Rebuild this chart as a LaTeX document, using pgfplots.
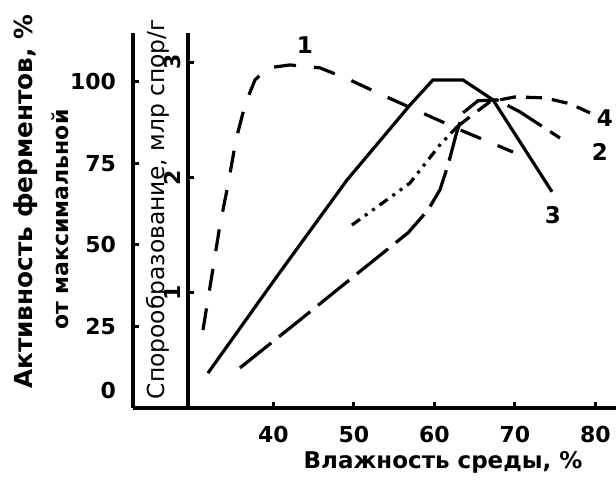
\documentclass[border=0pt]{standalone}
\usepackage{pgfplots}
\pgfplotsset{compat=1.18}
\usepackage{fontspec}
\setmainfont{DejaVu Sans}
\begin{document}
\begin{tikzpicture}
\path[use as bounding box] (0,0) rectangle (308pt,245pt);
\begin{axis}[
  at={(66.5pt,41pt)}, anchor=south west, scale only axis,
  width=241.5pt, height=187.5pt,
  xmin=22.55, xmax=82.55, ymin=0, ymax=115,
  axis x line=bottom, axis y line=left,
  axis line style={line width=2pt,-},
  tick align=inside, major tick length=3pt,
  tick style={line width=1.5pt, black},
  xtick={40,50,60,70,80},
  ytick={0,25,50,75,100},
  yticklabels={\raisebox{18pt}{0},25,50,75,100},
  /pgf/number format/assume math mode=true,
  ticklabel style={font=\bfseries\fontsize{11}{13}\selectfont},
  xticklabel style={yshift=-5.5pt},
  yticklabel style={xshift=-5pt},
  xlabel={Влажность среды, \%},
  xlabel style={at={(axis description cs:0.642,0)}, anchor=center, yshift=-27pt, font=\bfseries\fontsize{11.5}{14}\selectfont},
  ylabel={\fontsize{12.4}{14}\selectfont Активность ферментов, \%\\[6pt] \fontsize{11}{13}\selectfont от максимальной\hspace*{18pt}},
  ylabel style={at={(axis description cs:-0.19,0.55)}, anchor=center, align=center, font=\bfseries},
  clip=false,
]
% curve 1
\addplot[black, line width=1.6pt, dash pattern=on 11pt off 9pt] coordinates {
(31.24,23.9) (32.36,40.8) (33.35,56.1) (34.35,68.4) (35.34,82.2) (36.46,92.9)
(37.7,100.6) (39.32,104.3) (42.05,105.2) (45.78,104.3) (49.5,100.6) (53.23,96.3)
(58.2,90.8) (63.17,85.3) (69.75,78.5)};
% curve 3 (solid)
\addplot[black, line width=1.6pt] coordinates {
(31.86,10.7) (40.56,40.8) (49.13,69.9) (56.96,92.9) (59.81,100.6) (63.54,100.6)
(67.27,94.5) (74.6,66.3)};
% curve 2
\addplot[black, line width=1.6pt, dash pattern=on 20pt off 5pt] coordinates {
(35.84,12.3) (43.29,27.0) (50.50,41.4) (56.71,53.7) (59.19,60.7) (60.68,66.9)
(61.68,74.5) (62.67,83.7) (63.54,90.5) (65.4,94.2) (67.76,94.5) (70.62,90.8) (75.59,82.8)};
% curve 4
\addplot[black, line width=1.6pt, dash pattern=on 5pt off 3pt on 1.5pt off 3pt on 1.5pt off 3pt] coordinates {
(49.75,56.1) (53.23,62.3) (56.96,69.0) (60.68,80.7) (62.80,86.2)};
\addplot[black, line width=1.6pt, dash pattern=on 8pt off 5pt] coordinates {
(62.80,86.2) (65.03,90.5) (66.89,93.9) (70.0,95.4) (73.73,95.1) (76.83,93.3) (79.32,90.5)};
\node[font=\bfseries\fontsize{11.5}{14}\selectfont] at (axis cs:43.9,111.3) {1};
\node[font=\bfseries\fontsize{11.5}{14}\selectfont] at (axis cs:80.56,78.5) {2};
\node[font=\bfseries\fontsize{11.5}{14}\selectfont] at (axis cs:74.72,59.2) {3};
\node[font=\bfseries\fontsize{11.5}{14}\selectfont] at (axis cs:81.18,89.0) {4};
\end{axis}
\begin{axis}[
  at={(94pt,41pt)}, anchor=south west, scale only axis,
  width=214pt, height=187.5pt,
  xmin=29.38, xmax=82.55, ymin=0, ymax=3.252,
  hide x axis, axis y line=left,
  axis line style={line width=2pt,-},
  tick align=inside, major tick length=3pt,
  tick style={line width=1.5pt, black},
  ytick={1,2,3},
  /pgf/number format/assume math mode=true,
  yticklabel style={rotate=90, anchor=south, font=\bfseries\fontsize{11}{13}\selectfont},
  ylabel={Спорообразование, млр спор/г},
  ylabel style={at={(axis description cs:-0.07,0.53)}, anchor=center, font=\fontsize{11.7}{13}\selectfont},
  clip=false,
]
\end{axis}
\end{tikzpicture}
\end{document}
